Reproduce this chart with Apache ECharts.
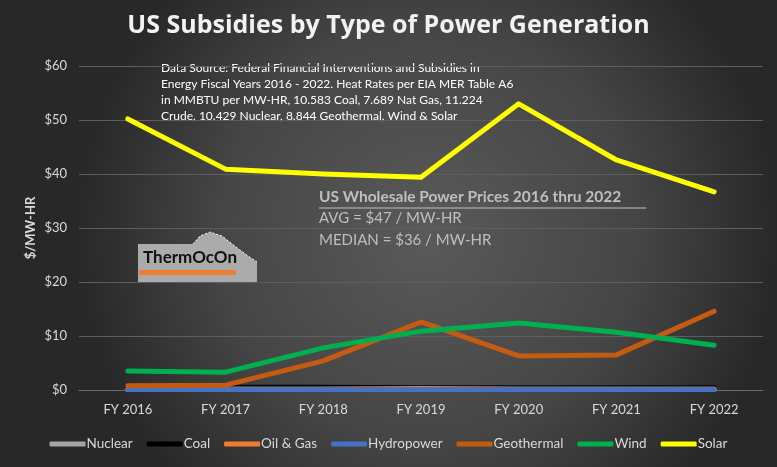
<!DOCTYPE html>
<html><head><meta charset="utf-8">
<script src="https://cdn.jsdelivr.net/npm/echarts@6/dist/echarts.min.js"></script>
<style>html,body{margin:0;padding:0;background:#333;}#c{width:777px;height:467px;}</style>
</head><body><div id="c"></div>
<script>
const categories = ['FY 2016','FY 2017','FY 2018','FY 2019','FY 2020','FY 2021','FY 2022'];
const nuclear    = [0.1, 0.1, 0.1, 0.1, 0.1, 0.1, 0.1];
const coal       = [0.4, 0.5, 0.5, 0.4, 0.4, 0.4, 0.4];
const oilGas     = [0.2, 0.2, 0.2, 0.3, 0.2, 0.2, 0.2];
const hydropower = [0.1, 0.1, 0.1, 0.1, 0.1, 0.1, 0.1];
const geothermal = [0.8, 0.9, 5.4, 12.6, 6.3, 6.5, 14.6];
const wind       = [3.5, 3.3, 7.8, 10.9, 12.4, 10.7, 8.3];
const solar      = [50.2, 40.9, 40.0, 39.4, 53.0, 42.6, 36.7];
const yTicks = [0, 10, 20, 30, 40, 50, 60];

const seriesDefs = [
  ['Nuclear', nuclear, '#A5A5A5'],
  ['Coal', coal, '#000000'],
  ['Oil & Gas', oilGas, '#ED7D31'],
  ['Hydropower', hydropower, '#4472C4'],
  ['Geothermal', geothermal, '#C55A11'],
  ['Wind', wind, '#00B050'],
  ['Solar', solar, '#FFFF00']
];
const FONT = 'Lato, "Open Sans", sans-serif';
const chart = echarts.init(document.getElementById('c'));
chart.setOption({
  backgroundColor: {type:'radial', x:0.55, y:0.5, r:0.75,
    colorStops:[{offset:0,color:'#5a5a5a'},{offset:0.6,color:'#454545'},{offset:1,color:'#282828'}]},
  animation: false,
  title: {text:'US Subsidies by Type of Power Generation', left:'center', top:8,
    textStyle:{color:'#F2F2F2', fontSize:25, fontWeight:'bold', fontFamily:'"Open Sans", sans-serif'}},
  legend: {bottom:11, left:'center', itemWidth:36, itemHeight:5, itemGap:14,
    icon:'roundRect',
    textStyle:{color:'#D9D9D9', fontSize:13.5, fontFamily:FONT, padding:[0,0,0,-4]},
    data: seriesDefs.map(d=>d[0])},
  grid: {left:79, right:14, top:66, bottom:77},
  xAxis: {type:'category', data:categories, boundaryGap:true,
    axisLine:{show:true, lineStyle:{color:'#6a6a6a'}}, axisTick:{show:false},
    axisLabel:{color:'#D9D9D9', fontSize:13, fontFamily:FONT, margin:13}},
  yAxis: {type:'value', min:yTicks[0], max:yTicks[yTicks.length-1], interval:10,
    name:'$/MW-HR', nameLocation:'middle', nameGap:42, nameRotate:90, nameMoveOverlap:false,
    nameTextStyle:{color:'#D9D9D9', fontSize:13, fontWeight:'bold', fontFamily:FONT},
    axisLabel:{color:'#D9D9D9', fontSize:13, fontFamily:FONT, margin:12, formatter:v=>'$'+v},
    splitLine:{lineStyle:{color:'#5e5e5e', width:1}},
    axisLine:{show:false}, axisTick:{show:false}},
  series: seriesDefs.map(d=>({name:d[0], type:'line', data:d[1], symbol:'none',
    lineStyle:{color:d[2], width:5, cap:'round', join:'round'}, itemStyle:{color:d[2]}})),
  graphic: [
    {type:'text', left:161, top:60, style:{text:
      'Data Source: Federal Financial Interventions and Subsidies in\nEnergy Fiscal Years 2016 - 2022. Heat Rates per EIA MER Table A6\nin MMBTU per MW-HR, 10.583 Coal, 7.689 Nat Gas, 11.224\nCrude, 10.429 Nuclear, 8.844 Geothermal, Wind & Solar',
      fill:'#FFFFFF', font:'12px '+FONT, lineHeight:16}},
    {type:'text', left:319, top:189, style:{text:'US Wholesale Power Prices 2016 thru 2022',
      fill:'#BFBFBF', font:'bold 15.5px '+FONT}},
    {type:'line', shape:{x1:319,y1:208,x2:646,y2:208}, style:{stroke:'#BFBFBF', lineWidth:1.2}},
    {type:'text', left:319, top:211, style:{text:'AVG = $47 / MW-HR', fill:'#BFBFBF', font:'15px '+FONT}},
    {type:'text', left:319, top:233, style:{text:'MEDIAN = $36 / MW-HR', fill:'#BFBFBF', font:'15px '+FONT}},
    {type:'polygon', shape:{points:[[138,244],[193,244],[200,236],[210,232],[222,236],[236,247],[248,256],[257,262],[257,283],[138,283]]},
      style:{fill:'#ABABAB'}},
    {type:'polyline', shape:{points:[[193,244],[200,236],[210,232],[222,236],[236,247],[248,256],[257,262]]},
      style:{stroke:'#FFFFFF', lineWidth:1, lineDash:[2,2], fill:null}},
    {type:'text', left:143, top:249, style:{text:'ThermOcOn', fill:'#111111', font:'bold 17px '+FONT}},
    {type:'rect', shape:{x:139,y:270,width:97,height:5}, style:{fill:'#ED7D31'}}
  ]
});
</script></body></html>
